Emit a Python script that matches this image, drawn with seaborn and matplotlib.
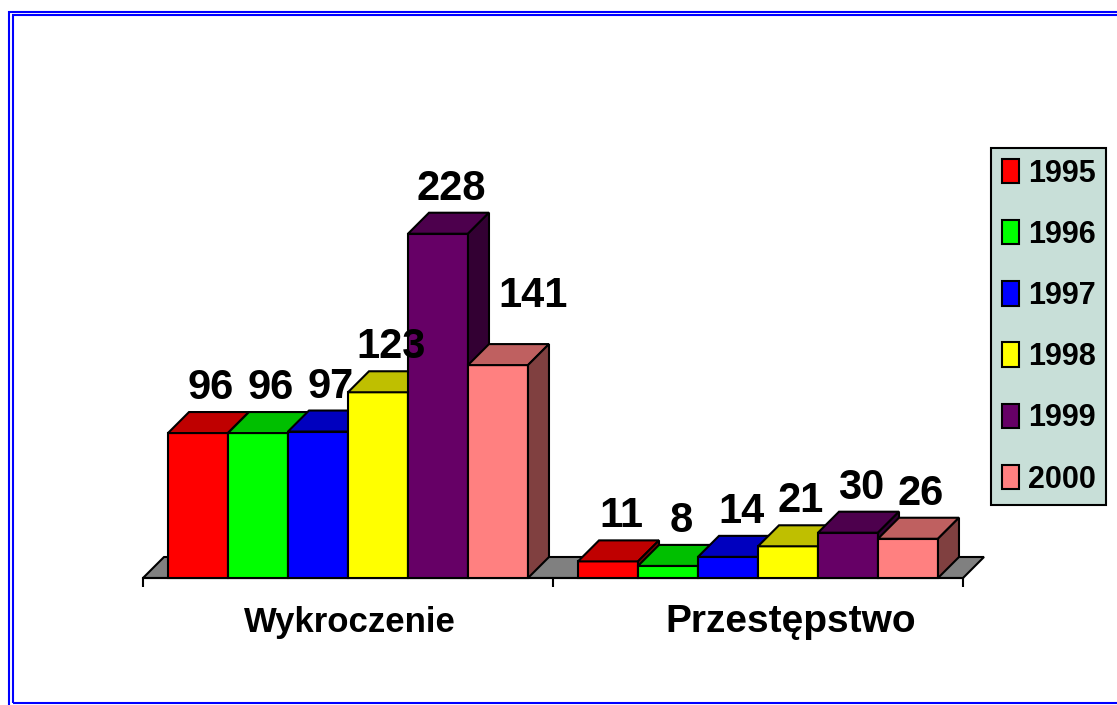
import numpy as np
import pandas as pd
import matplotlib
matplotlib.use("Agg")
import matplotlib.pyplot as plt
import seaborn as sns
from matplotlib import font_manager
from matplotlib.patches import Polygon, Rectangle, Patch
from matplotlib.colors import to_rgb

# --- data ---
categories = ["Wykroczenie", "Przestępstwo"]
years = ["1995", "1996", "1997", "1998", "1999", "2000"]
wykroczenie = [96, 96, 97, 123, 228, 141]
przestepstwo = [11, 8, 14, 21, 30, 26]
colors = ["#FF0000", "#00FF00", "#0000FF", "#FFFF00", "#660066", "#FF8080"]

rows = []
for y, a, b in zip(years, wykroczenie, przestepstwo):
    rows.append((categories[0], y, a))
    rows.append((categories[1], y, b))
df = pd.DataFrame(rows, columns=["category", "year", "value"])


def pick_font(names):
    for n in names:
        try:
            font_manager.findfont(n, fallback_to_default=False)
            return n
        except Exception:
            pass
    return "DejaVu Sans"


narrow = pick_font(["Liberation Sans Narrow", "Liberation Sans", "Arial"])
regular = pick_font(["Liberation Sans", "Arial"])

sns.set_theme(style="white")
plt.rcParams["font.family"] = [regular, "DejaVu Sans"]
plt.rcParams["text.color"] = "black"

W, H = 1117, 705
fig = plt.figure(figsize=(W / 100, H / 100), dpi=100)
fig.patch.set_facecolor("white")

# plot area: x -0.5..1.5 spans 143..963 px, baseline at 578 px, 1.51 px per unit
px_per_unit = 1.51
ymax = 250
ax = fig.add_axes([143 / W, (H - 578) / H, 820 / W, ymax * px_per_unit / H])
ax.set_facecolor("none")

sns.barplot(data=df, x="category", y="value", hue="year", hue_order=years,
            order=categories, palette=colors, saturation=1, width=0.878, gap=0,
            edgecolor="black", linewidth=1.5, errorbar=None, legend=False, ax=ax)

ax.set_xlim(-0.5, 1.5)
ax.set_ylim(0, ymax)

# depth of the fake 3D in data units
dx = 21 / 410
dy = 21 / px_per_unit

bars = sorted([p for p in ax.patches], key=lambda p: p.get_x())

# floor
floor = Polygon([(-0.5, 0), (1.5, 0), (1.5 + dx, dy), (-0.5 + dx, dy)],
                closed=True, facecolor="#808080", edgecolor="black", lw=1.5,
                zorder=0.5, clip_on=False)
ax.add_patch(floor)


def shade(c, f):
    return tuple(v * f for v in to_rgb(c))


# top and side faces, drawn left to right so later bars hide earlier sides
for i, p in enumerate(bars):
    z = 2 + i * 0.01
    p.set_zorder(z)
    p.set_clip_on(False)
    x0, w, h = p.get_x(), p.get_width(), p.get_height()
    fc = p.get_facecolor()
    top = Polygon([(x0, h), (x0 + w, h), (x0 + w + dx, h + dy), (x0 + dx, h + dy)],
                  closed=True, facecolor=shade(fc, 0.75), edgecolor="black",
                  lw=1.5, zorder=z, clip_on=False, joinstyle="miter")
    side = Polygon([(x0 + w, 0), (x0 + w + dx, dy), (x0 + w + dx, h + dy), (x0 + w, h)],
                   closed=True, facecolor=shade(fc, 0.5), edgecolor="black",
                   lw=1.5, zorder=z, clip_on=False, joinstyle="miter")
    ax.add_patch(top)
    ax.add_patch(side)
    label_dx, label_dy = 13, 34
    if h == 141:
        label_dx, label_dy = 35, 58
    ax.annotate(f"{h:.0f}", xy=(x0 + w / 2, h), xytext=(label_dx, label_dy),
                textcoords="offset pixels", ha="center", va="baseline",
                fontsize=30, fontweight="bold", family=[narrow, "DejaVu Sans"],
                color="black", zorder=10, annotation_clip=False)

# axis: only the bottom line with ticks at the category boundaries
for s in ["left", "right", "top"]:
    ax.spines[s].set_visible(False)
ax.spines["bottom"].set_linewidth(1.5)
ax.spines["bottom"].set_color("black")
ax.spines["bottom"].set_zorder(1)
ax.set_xticks([-0.5, 0.5, 1.5])
ax.set_xticklabels(["", "", ""])
ax.set_yticks([])
ax.tick_params(axis="x", direction="out", length=6.5, width=1.5, color="black",
               bottom=True)
ax.set_xlabel("")
ax.set_ylabel("")

name_dx = [2, 33]
name_size = [25, 28]
for i, name in enumerate(categories):
    ax.annotate(name, xy=(i, 0), xytext=(name_dx[i], -54), textcoords="offset pixels",
                ha="center", va="baseline", fontsize=name_size[i], fontweight="bold",
                color="black", family=[regular, "DejaVu Sans"], annotation_clip=False)

# legend
handles = [Patch(facecolor=c, edgecolor="black", lw=1.5) for c in colors]
leg = fig.legend(handles, years, loc="upper left",
                 bbox_to_anchor=(991 / W, 1 - 148 / H),
                 prop={"family": [narrow, "DejaVu Sans"], "weight": "bold", "size": 22},
                 frameon=True, fancybox=False, framealpha=1,
                 facecolor="#C8DFD8", edgecolor="black",
                 handlelength=0.55, handleheight=0.85, handletextpad=0.3,
                 labelspacing=1.02, borderpad=0.35, borderaxespad=0)
leg.get_frame().set_linewidth(1.5)
for t in leg.get_texts():
    t.set_color("black")

# double blue border (runs off the right edge like the source)
fig.patches.append(Rectangle((9 / W, -0.2), 2, 1.2 - 11.8 / H,
                             transform=fig.transFigure, fill=False,
                             edgecolor="#0000FF", lw=1.5))
fig.patches.append(Rectangle((12.5 / W, (H - 702.5) / H), 2, 1 - 15.2 / H - (H - 702.5) / H,
                             transform=fig.transFigure, fill=False,
                             edgecolor="#0000FF", lw=1.5))

fig.savefig("out.png", dpi=100, facecolor="white")
